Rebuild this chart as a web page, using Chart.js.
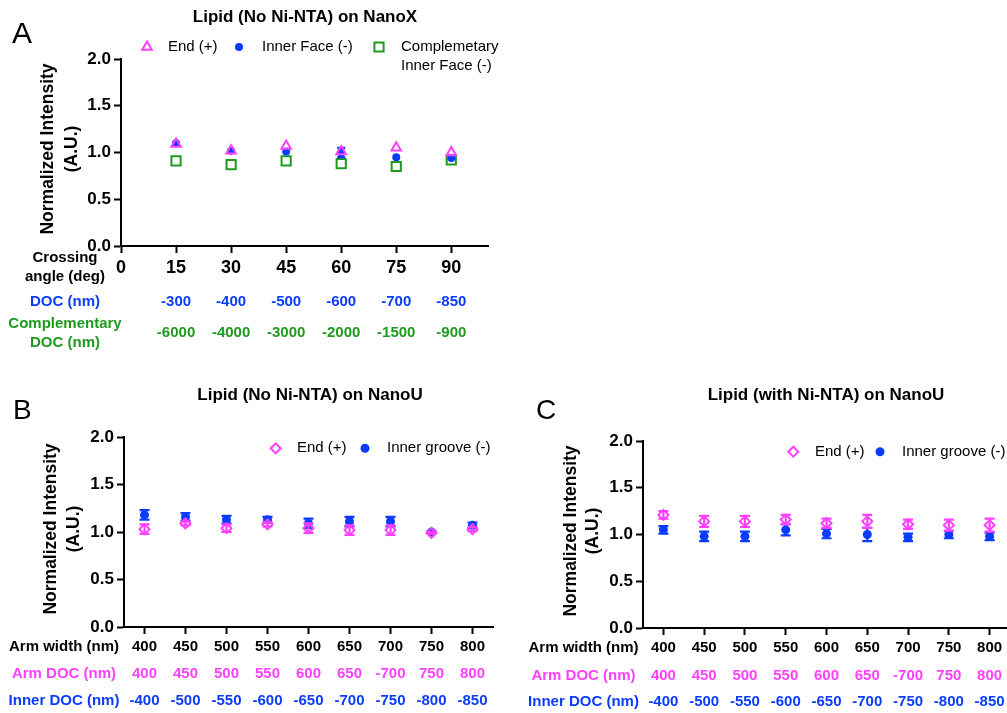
<!DOCTYPE html>
<html><head><meta charset="utf-8">
<script src="https://cdn.jsdelivr.net/npm/chart.js@4.4.1/dist/chart.umd.min.js"></script>
<style>
html,body{margin:0;padding:0;background:#fff;overflow:hidden;width:1007px;height:713px;position:relative;}
canvas{position:absolute;}
</style></head><body>
<canvas id="cA" width="520" height="360" style="left:0;top:0"></canvas>
<canvas id="cB" width="500" height="333" style="left:0;top:380px"></canvas>
<canvas id="cC" width="520" height="333" style="left:500px;top:380px"></canvas>
<script>
// ---------- data ----------
const angles = [15, 30, 45, 60, 75, 90];
const angleTicks = [0, 15, 30, 45, 60, 75, 90];
const docA = ['-300', '-400', '-500', '-600', '-700', '-850'];
const compDocA = ['-6000', '-4000', '-3000', '-2000', '-1500', '-900'];
const endA = [1.09, 1.02, 1.07, 1.01, 1.05, 1.00];
const endAErr = [0, 0, 0, 0, 0, 0];
const innerA = [1.10, 1.02, 1.01, 1.00, 0.95, 0.94];
const innerAErr = [0, 0, 0, 0.05, 0, 0];
const compA = [0.91, 0.87, 0.91, 0.88, 0.85, 0.92];
const compAErr = [0, 0, 0, 0, 0, 0];

const armWidths = ['400', '450', '500', '550', '600', '650', '700', '750', '800'];
const armDoc = ['400', '450', '500', '550', '600', '650', '-700', '750', '800'];
const innerDoc = ['-400', '-500', '-550', '-600', '-650', '-700', '-750', '-800', '-850'];

const endB = [1.03, 1.09, 1.04, 1.08, 1.04, 1.02, 1.02, 0.99, 1.03];
const endBErr = [0.05, 0.02, 0.04, 0.02, 0.05, 0.05, 0.05, 0.01, 0.02];
const innerB = [1.18, 1.16, 1.13, 1.13, 1.09, 1.11, 1.11, 1.00, 1.07];
const innerBErr = [0.05, 0.04, 0.04, 0.03, 0.05, 0.05, 0.05, 0.01, 0.03];

const endC = [1.21, 1.14, 1.14, 1.16, 1.12, 1.14, 1.11, 1.10, 1.10];
const endCErr = [0.04, 0.06, 0.06, 0.05, 0.05, 0.07, 0.05, 0.06, 0.07];
const innerC = [1.05, 0.98, 0.98, 1.05, 1.01, 1.00, 0.97, 1.00, 0.98];
const innerCErr = [0.04, 0.05, 0.05, 0.06, 0.05, 0.07, 0.04, 0.04, 0.04];

// ---------- style ----------
const FONT = "'Liberation Sans', Arial, Helvetica, sans-serif";
const PINK = '#ff40ff';
const BLUE = '#0a3cff';
const GREEN = '#1e9b1e';
const NONE = 'rgba(0,0,0,0)';
const DECOR = {};

function drawMarker(ctx, m, x, y) {
  ctx.save();
  ctx.fillStyle = m.fill;
  ctx.strokeStyle = m.stroke;
  ctx.lineWidth = m.bw;
  if (Chart.helpers && Chart.helpers.drawPoint) {
    Chart.helpers.drawPoint(ctx, {pointStyle: m.style, radius: m.r, rotation: 0, borderWidth: m.bw}, x, y);
  }
  ctx.restore();
}

const errorBars = {
  id: 'errorBars',
  beforeDatasetDraw(chart, args) {
    const ds = chart.data.datasets[args.index];
    if (!ds.errors) return;
    const ys = chart.scales.y;
    const ctx = chart.ctx;
    ctx.save();
    ctx.strokeStyle = ds.pointBorderColor;
    ctx.lineWidth = 2.2;
    args.meta.data.forEach((pt, i) => {
      const raw = ds.data[i];
      const v = (typeof raw === 'object') ? raw.y : raw;
      const e = ds.errors[i];
      if (!e) return;
      const yt = ys.getPixelForValue(v + e), yb = ys.getPixelForValue(v - e);
      const w = ds.capHalf || 5;
      ctx.beginPath();
      ctx.moveTo(pt.x, yt); ctx.lineTo(pt.x, yb);
      ctx.moveTo(pt.x - w, yt); ctx.lineTo(pt.x + w, yt);
      ctx.moveTo(pt.x - w, yb); ctx.lineTo(pt.x + w, yb);
      ctx.stroke();
    });
    ctx.restore();
  }
};

const decor = {
  id: 'decor',
  afterDraw(chart) {
    const o = DECOR[chart.canvas.id];
    if (!o) return;
    const ctx = chart.ctx;
    ctx.save();
    // panel letter
    ctx.fillStyle = '#000';
    ctx.font = `${o.letter.size}px ${FONT}`;
    ctx.textAlign = 'left'; ctx.textBaseline = 'alphabetic';
    ctx.fillText(o.letter.text, o.letter.x, o.letter.y);
    // title
    ctx.font = `bold 17px ${FONT}`;
    ctx.textAlign = 'center'; ctx.textBaseline = 'middle';
    ctx.fillText(o.title.text, o.title.x, o.title.y);
    // y axis title
    ctx.save();
    ctx.translate(0, o.yTitle.y);
    ctx.rotate(-Math.PI / 2);
    ctx.font = `bold 17.5px ${FONT}`;
    o.yTitle.lines.forEach((ln, k) => ctx.fillText(ln, 0, o.yTitle.xs[k]));
    ctx.restore();
    // legend
    ctx.font = `15px ${FONT}`;
    ctx.textAlign = 'left';
    o.legend.forEach(it => {
      drawMarker(ctx, it.marker, it.mx, it.y);
      ctx.fillStyle = '#000';
      it.text.forEach((t, k) => ctx.fillText(t, it.tx, it.y + k * 19));
    });
    // extra label rows
    const xs = chart.scales.x;
    ctx.font = `bold 15px ${FONT}`;
    o.rows.forEach(r => {
      ctx.fillStyle = r.color;
      ctx.textAlign = 'center';
      r.label.forEach((t, k) => ctx.fillText(t, o.labelX, r.labelYs[k]));
      if (Array.isArray(r.values)) {
        r.values.forEach((t, i) => ctx.fillText(t, xs.getPixelForValue(o.xValues[i]), r.y));
      }
    });
    ctx.restore();
  }
};

function axisStyle() {
  return {
    grid: {display: true, drawOnChartArea: false, drawTicks: true, tickLength: 7, tickWidth: 2, tickColor: '#000'},
    border: {display: true, color: '#000', width: 2}
  };
}
function yAxis(areaLeft) {
  return Object.assign({
    min: 0, max: 2,
    afterFit(s) { s.width = areaLeft; },
    ticks: {stepSize: 0.5, callback: v => Number(v).toFixed(1), font: {family: FONT, size: 17, weight: 'bold'}, color: '#000', padding: 3}
  }, axisStyle());
}

// ---------- Panel A ----------
DECOR.cA = {
  letter: {text: 'A', size: 30, x: 12, y: 43},
  title: {text: 'Lipid (No Ni-NTA) on NanoX', x: 305, y: 17},
  yTitle: {lines: ['Normalized Intensity', '(A.U.)'], xs: [48, 72], y: 149},
  legend: [
    {marker: {style: 'triangle', r: 5.5, bw: 2, fill: NONE, stroke: PINK}, mx: 147, tx: 168, y: 47, text: ['End (+)']},
    {marker: {style: 'circle', r: 4, bw: 0, fill: BLUE, stroke: BLUE}, mx: 239, tx: 262, y: 47, text: ['Inner Face (-)']},
    {marker: {style: 'rect', r: 6.5, bw: 2, fill: NONE, stroke: GREEN}, mx: 379, tx: 401, y: 47, text: ['Complemetary', 'Inner Face (-)']}
  ],
  labelX: 65,
  xValues: angles,
  rows: [
    {label: ['Crossing', 'angle (deg)'], labelYs: [258, 277], color: '#000'},
    {label: ['DOC (nm)'], labelYs: [302], color: BLUE, values: docA, y: 302},
    {label: ['Complementary', 'DOC (nm)'], labelYs: [324, 343], color: GREEN, values: compDocA, y: 333}
  ]
};

new Chart(document.getElementById('cA'), {
  type: 'scatter',
  data: {
    datasets: [
      {label: 'End (+)', data: angles.map((a, i) => ({x: a, y: endA[i]})), errors: endAErr,
       pointStyle: 'triangle', pointRadius: 5.5, pointBorderWidth: 2, pointBackgroundColor: NONE, pointBorderColor: PINK, capHalf: 4},
      {label: 'Inner Face (-)', data: angles.map((a, i) => ({x: a, y: innerA[i]})), errors: innerAErr,
       pointStyle: 'circle', pointRadius: 4, pointBorderWidth: 0, pointBackgroundColor: BLUE, pointBorderColor: BLUE, capHalf: 4},
      {label: 'Complemetary Inner Face (-)', data: angles.map((a, i) => ({x: a, y: compA[i]})), errors: compAErr,
       pointStyle: 'rect', pointRadius: 6.5, pointBorderWidth: 2, pointBackgroundColor: NONE, pointBorderColor: GREEN, capHalf: 4}
    ]
  },
  options: {
    responsive: false, animation: false, events: [],
    layout: {padding: {left: 0, top: 59, right: 32, bottom: 84}},
    plugins: {legend: {display: false}, tooltip: {enabled: false}},
    scales: {
      x: Object.assign({
        type: 'linear', min: 0, max: 100,
        afterBuildTicks(s) { s.ticks = angleTicks.map(v => ({value: v})); },
        afterFit(s) { s.height = 30; },
        ticks: {callback: v => String(v), font: {family: FONT, size: 18, weight: 'bold'}, color: '#000', padding: 4, maxRotation: 0, autoSkip: false}
      }, axisStyle()),
      y: yAxis(121)
    }
  },
  plugins: [errorBars, decor]
});

// ---------- Panels B & C ----------
function nanoU(id, cfg) {
  DECOR[id] = {
    letter: cfg.letter,
    title: cfg.title,
    yTitle: cfg.yTitle,
    legend: [
      {marker: {style: 'rectRot', r: 5, bw: 2, fill: NONE, stroke: PINK}, mx: cfg.leg[0], tx: cfg.leg[1], y: cfg.leg[4], text: ['End (+)']},
      {marker: {style: 'circle', r: 4.5, bw: 0, fill: BLUE, stroke: BLUE}, mx: cfg.leg[2], tx: cfg.leg[3], y: cfg.leg[4], text: ['Inner groove (-)']}
    ],
    labelX: cfg.labelX,
    xValues: armWidths.map((_, i) => i),
    rows: [
      {label: ['Arm width (nm)'], labelYs: [cfg.rowY[0]], color: '#000'},
      {label: ['Arm DOC (nm)'], labelYs: [cfg.rowY[1]], color: PINK, values: armDoc, y: cfg.rowY[1]},
      {label: ['Inner DOC (nm)'], labelYs: [cfg.rowY[2]], color: BLUE, values: innerDoc, y: cfg.rowY[2]}
    ]
  };
  new Chart(document.getElementById(id), {
    type: 'line',
    data: {
      labels: armWidths,
      datasets: [
        {label: 'End (+)', data: cfg.end, errors: cfg.endErr, showLine: false,
         pointStyle: 'rectRot', pointRadius: 5, pointBorderWidth: 2, pointBackgroundColor: NONE, pointBorderColor: PINK, capHalf: 5},
        {label: 'Inner groove (-)', data: cfg.inner, errors: cfg.innerErr, showLine: false,
         pointStyle: 'circle', pointRadius: 4.5, pointBorderWidth: 0, pointBackgroundColor: BLUE, pointBorderColor: BLUE, capHalf: 5}
      ]
    },
    options: {
      responsive: false, animation: false, events: [],
      layout: {padding: cfg.padding},
      plugins: {legend: {display: false}, tooltip: {enabled: false}},
      scales: {
        x: Object.assign({
          type: 'category', offset: true,
          afterFit(s) { s.height = 30; },
          ticks: {font: {family: FONT, size: 15, weight: 'bold'}, color: '#000', padding: 4, maxRotation: 0, autoSkip: false}
        }, axisStyle()),
        y: yAxis(cfg.areaLeft)
      }
    },
    plugins: [errorBars, decor]
  });
}

nanoU('cB', {
  end: endB, endErr: endBErr, inner: innerB, innerErr: innerBErr,
  padding: {left: 0, top: 57, right: 5, bottom: 56},
  areaLeft: 124,
  letter: {text: 'B', size: 28, x: 13, y: 39},
  title: {text: 'Lipid (No Ni-NTA) on NanoU', x: 310, y: 15},
  yTitle: {lines: ['Normalized Intensity', '(A.U.)'], xs: [51, 74], y: 149},
  leg: [275.7, 297, 365, 387, 68.3],
  labelX: 64,
  rowY: [266.7, 294.3, 320.7]
});

nanoU('cC', {
  end: endC, endErr: endCErr, inner: innerC, innerErr: innerCErr,
  padding: {left: 0, top: 61, right: 10, bottom: 55},
  areaLeft: 143,
  letter: {text: 'C', size: 28, x: 36, y: 39},
  title: {text: 'Lipid (with Ni-NTA) on NanoU', x: 326, y: 15},
  yTitle: {lines: ['Normalized Intensity', '(A.U.)'], xs: [71, 93], y: 151},
  leg: [293.3, 315, 380, 402, 71.7],
  labelX: 83.5,
  rowY: [268.3, 295.7, 321.7]
});
</script>
</body></html>
